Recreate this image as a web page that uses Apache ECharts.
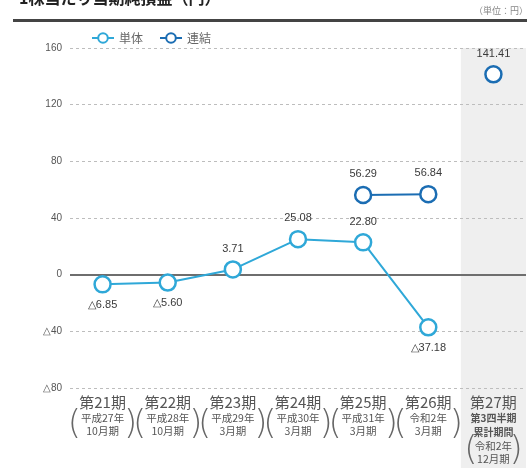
<!DOCTYPE html>
<html>
<head>
<meta charset="utf-8">
<script src="https://cdn.jsdelivr.net/npm/echarts@6/dist/echarts.min.js"></script>
<style>
  html, body { margin: 0; padding: 0; background: #fff; overflow: hidden; }
  #chart { width: 527px; height: 468px; overflow: hidden; }
</style>
</head>
<body>
<div id="chart"></div>
<script>
// Fiscal periods and their sub-captions
const periods = ['第21期', '第22期', '第23期', '第24期', '第25期', '第26期', '第27期'];
const periodEra = ['平成27年', '平成28年', '平成29年', '平成30年', '平成31年', '令和2年', '令和2年'];
const periodMonth = ['10月期', '10月期', '3月期', '3月期', '3月期', '3月期', '12月期'];
const lastPeriodNote = ['第3四半期', '累計期間'];

// Earnings per share (yen); negatives are losses
const standalone = [-6.85, -5.60, 3.71, 25.08, 22.80, -37.18, null];
const consolidated = [null, null, null, null, 56.29, 56.84, null];
const consolidatedQ3 = [null, null, null, null, null, null, 141.41];

// Shaded highlight for the interim (quarterly cumulative) period
const highlight = [null, null, null, null, null, null, 1];

// Value axis ticks
const yMin = -80, yMax = 160, yStep = 40;

const colorStandalone = '#2fa8d8';
const colorConsolidated = '#1b6db3';
const FONT = '"Noto Sans CJK JP", "Noto Sans", sans-serif';
const NUM_FONT = '"Liberation Sans Narrow", "Liberation Sans", sans-serif';

const fmt = v => (v < 0 ? '△' + Math.abs(v).toFixed(2) : v.toFixed(2));

function toItems(arr) {
  return arr.map(v => v == null ? null : {
    value: v,
    label: { position: v < 0 ? 'bottom' : 'top' }
  });
}

const last = periods.length - 1;

const chart = echarts.init(document.getElementById('chart'), null, { renderer: 'canvas' });

const labelStyle = {
  show: true,
  formatter: p => fmt(p.value),
  fontSize: 11,
  color: '#3a3a3a',
  fontFamily: NUM_FONT,
  distance: 6
};

const option = {
  animation: false,
  backgroundColor: '#fff',
  title: [
    {
      text: '1株当たり当期純損益（円）',
      left: 14,
      top: -15,
      textStyle: { fontSize: 16, fontWeight: 'bold', color: '#222', fontFamily: FONT }
    },
    {
      text: '（単位：円）',
      right: -6,
      top: 1,
      textStyle: { fontSize: 9, fontWeight: 'normal', color: '#888', fontFamily: FONT }
    }
  ],
  graphic: [
    {
      type: 'rect',
      shape: { x: 13, y: 19, width: 514, height: 3 },
      style: { fill: '#444' },
      silent: true
    }
  ],
  legend: {
    data: ['単体', '連結'],
    left: 86,
    top: 27,
    itemWidth: 22,
    itemHeight: 12,
    itemGap: 16,
    textStyle: { fontSize: 12, color: '#666', fontFamily: FONT }
  },
  grid: [
    { left: 70, right: 1, top: 48, bottom: 78 },
    { left: 70, right: 1, top: 48, bottom: 0 }
  ],
  xAxis: [
    {
      type: 'category',
      gridIndex: 0,
      data: periods,
      boundaryGap: true,
      axisLine: { show: false },
      axisTick: { show: false },
      axisLabel: {
        interval: 0,
        margin: 6,
        verticalAlign: 'top',
        formatter: (v, i) => {
          if (i === last) {
            return '{a|' + v + '}\n{c|' + lastPeriodNote[0] + '}\n{c|' + lastPeriodNote[1] +
                   '}\n{b|' + periodEra[i] + '}\n{b|' + periodMonth[i] + '}';
          }
          return '{a|' + v + '}\n{b|' + periodEra[i] + '}\n{b|' + periodMonth[i] + '}';
        },
        rich: {
          a: { fontSize: 15, lineHeight: 17, color: '#555', fontFamily: FONT },
          b: { fontSize: 10.5, lineHeight: 13.5, color: '#555', fontFamily: FONT },
          c: { fontSize: 10, lineHeight: 14, color: '#555', fontWeight: 'bold', fontFamily: FONT }
        }
      }
    },
    {
      // bracket captions around the era/month lines
      type: 'category',
      gridIndex: 0,
      data: periods,
      position: 'bottom',
      axisLine: { show: false },
      axisTick: { show: false },
      axisLabel: {
        interval: 0,
        margin: 20,
        verticalAlign: 'top',
        formatter: (v, i) => i === last
          ? '{g| }\n{p|(}{t|}{p|)}'
          : '{p|(}{s|}{p|)}',
        rich: {
          p: { fontSize: 34, lineHeight: 34, color: '#666', fontWeight: 200, fontFamily: '"DejaVu Sans", sans-serif' },
          s: { width: 43 },
          t: { width: 32 },
          g: { fontSize: 1, lineHeight: 26 }
        }
      }
    },
    {
      type: 'category',
      gridIndex: 1,
      data: periods,
      show: false
    }
  ],
  yAxis: [
    {
      type: 'value',
      gridIndex: 0,
      min: yMin,
      max: yMax,
      interval: yStep,
      axisLine: { show: false },
      axisTick: { show: false },
      axisLabel: {
        margin: 8,
        fontSize: 10,
        color: '#555',
        fontFamily: NUM_FONT,
        formatter: v => (v < 0 ? '△' + Math.abs(v) : String(v))
      },
      splitLine: { lineStyle: { color: '#bdbdbd', type: [3, 3], width: 1 } }
    },
    {
      type: 'value',
      gridIndex: 1,
      min: 0,
      max: 1,
      show: false
    }
  ],
  series: [
    {
      type: 'bar',
      xAxisIndex: 2,
      yAxisIndex: 1,
      data: highlight,
      barWidth: '100%',
      itemStyle: { color: '#efefef' },
      silent: true,
      z: -1
    },
    {
      name: '単体',
      type: 'line',
      data: toItems(standalone),
      symbol: 'circle',
      symbolSize: 16,
      lineStyle: { color: colorStandalone, width: 2 },
      itemStyle: { color: '#fff', borderColor: colorStandalone, borderWidth: 2.5 },
      label: labelStyle,
      z: 3,
      markLine: {
        silent: true,
        symbol: 'none',
        label: { show: false },
        lineStyle: { color: '#6e6e6e', width: 2, type: 'solid' },
        data: [{ yAxis: 0 }],
        z: 2
      }
    },
    {
      name: '連結',
      type: 'line',
      data: toItems(consolidated),
      symbol: 'circle',
      symbolSize: 16,
      lineStyle: { color: colorConsolidated, width: 2 },
      itemStyle: { color: '#fff', borderColor: colorConsolidated, borderWidth: 2.5 },
      label: labelStyle,
      z: 3
    },
    {
      name: '連結',
      type: 'line',
      data: toItems(consolidatedQ3),
      symbol: 'circle',
      symbolSize: 16,
      lineStyle: { color: colorConsolidated, width: 2 },
      itemStyle: { color: '#fff', borderColor: colorConsolidated, borderWidth: 2.5 },
      label: labelStyle,
      z: 3
    }
  ]
};

chart.setOption(option);
</script>
</body>
</html>
